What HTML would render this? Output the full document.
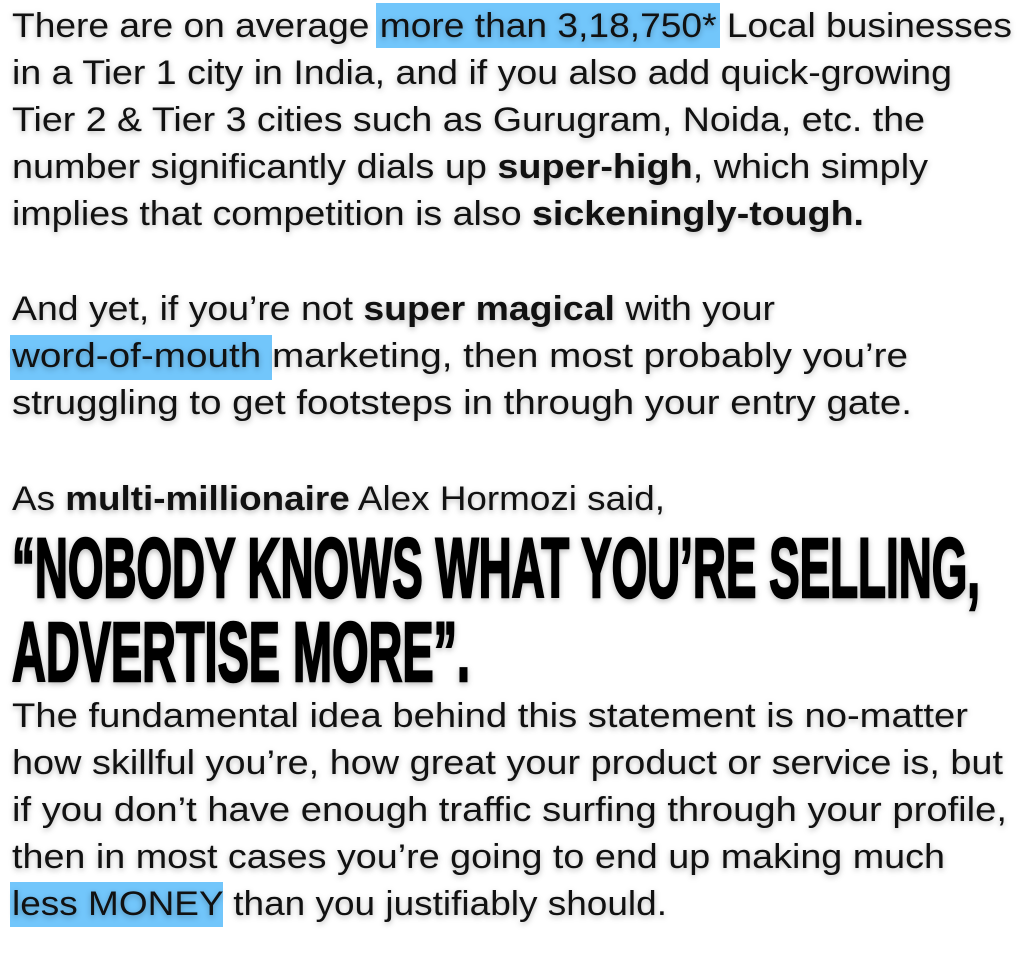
<!DOCTYPE html>
<html><head><meta charset="utf-8"><style>
html,body{margin:0;padding:0;background:#fff;width:1024px;height:968px;overflow:hidden}
svg{display:block}
text{font-family:"Liberation Sans",Arial,sans-serif;font-size:34px;fill:#111}
.t{filter:drop-shadow(0 2px 3px rgba(0,0,0,0.28))}
.b{font-weight:bold}
.h{font-size:84px;font-weight:bold;fill:#000;stroke:#000;stroke-width:2.5px}
</style></head><body>
<svg width="1024" height="968" viewBox="0 0 1024 968" xmlns="http://www.w3.org/2000/svg">
<rect x="376" y="3" width="344" height="45" fill="#72c6fb"/>
<rect x="10" y="335" width="262" height="45" fill="#72c6fb"/>
<rect x="10" y="882" width="213" height="45" fill="#72c6fb"/>
<g class="t">
<text x="12" y="37" textLength="1000" lengthAdjust="spacingAndGlyphs">There are on average more than 3,18,750* Local businesses</text>
<text x="12" y="84" textLength="940" lengthAdjust="spacingAndGlyphs">in a Tier 1 city in India, and if you also add quick-growing</text>
<text x="12" y="131" textLength="913" lengthAdjust="spacingAndGlyphs">Tier 2 &amp; Tier 3 cities such as Gurugram, Noida, etc. the</text>
<text x="12" y="178" textLength="916" lengthAdjust="spacingAndGlyphs">number significantly dials up <tspan class="b">super-high</tspan>, which simply</text>
<text x="12" y="225" textLength="852" lengthAdjust="spacingAndGlyphs">implies that competition is also <tspan class="b">sickeningly-tough.</tspan></text>
<text x="12" y="320" textLength="763" lengthAdjust="spacingAndGlyphs">And yet, if you’re not <tspan class="b">super magical</tspan> with your</text>
<text x="12" y="367" textLength="896" lengthAdjust="spacingAndGlyphs">word-of-mouth marketing, then most probably you’re</text>
<text x="12" y="414" textLength="900" lengthAdjust="spacingAndGlyphs">struggling to get footsteps in through your entry gate.</text>
<text x="12" y="510" textLength="653" lengthAdjust="spacingAndGlyphs">As <tspan class="b">multi-millionaire</tspan> Alex Hormozi said,</text>
<text class="h" x="12" y="597" textLength="968" lengthAdjust="spacingAndGlyphs">“NOBODY KNOWS WHAT YOU’RE SELLING,</text>
<text class="h" x="12" y="681" textLength="458" lengthAdjust="spacingAndGlyphs">ADVERTISE MORE”.</text>
<text x="12" y="727" textLength="956" lengthAdjust="spacingAndGlyphs">The fundamental idea behind this statement is no-matter</text>
<text x="12" y="774" textLength="991" lengthAdjust="spacingAndGlyphs">how skillful you’re, how great your product or service is, but</text>
<text x="12" y="821" textLength="995" lengthAdjust="spacingAndGlyphs">if you don’t have enough traffic surfing through your profile,</text>
<text x="12" y="868" textLength="933" lengthAdjust="spacingAndGlyphs">then in most cases you’re going to end up making much</text>
<text x="12" y="915" textLength="655" lengthAdjust="spacingAndGlyphs">less MONEY than you justifiably should.</text>
</g>
</svg>
</body></html>
